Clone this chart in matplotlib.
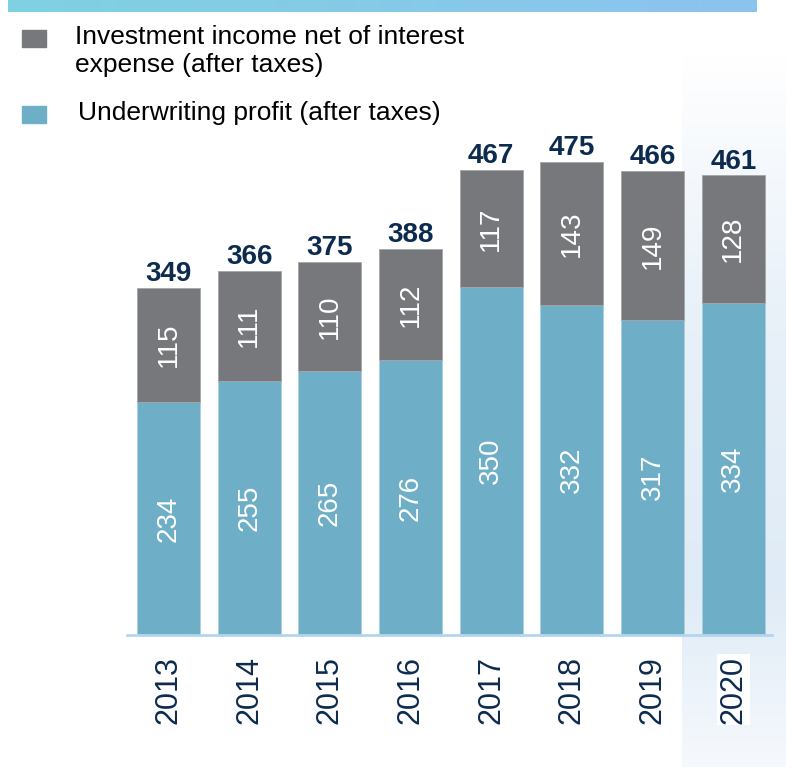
import matplotlib.pyplot as plt
import numpy as np
from matplotlib.colors import LinearSegmentedColormap

plt.rcParams['font.family'] = ['Liberation Sans', 'DejaVu Sans']

years = ['2013', '2014', '2015', '2016', '2017', '2018', '2019', '2020']
underwriting = [234, 255, 265, 276, 350, 332, 317, 334]
investment = [115, 111, 110, 112, 117, 143, 149, 128]
totals = [349, 366, 375, 388, 467, 475, 466, 461]

legend_labels = ['Investment income net of interest\nexpense (after taxes)',
                 'Underwriting profit (after taxes)']

grey = '#77787b'
blue = '#6eaec6'
navy = '#0d2b4e'

W, H = 786, 767
fig = plt.figure(figsize=(W / 100, H / 100), dpi=100)


def px_axes(x0, y0, x1, y1, **kw):
    # axes placed by pixel box (top-left origin)
    return fig.add_axes([x0 / W, 1 - y1 / H, (x1 - x0) / W, (y1 - y0) / H], **kw)


# shaded highlight behind the latest year
bg = px_axes(682, 55, 786, 767)
shade = LinearSegmentedColormap.from_list(
    'shade', [(0, '#ffffff'), (0.35, '#e9f1f9'), (0.75, '#dfebf6'), (1, '#f6f9fd')])
bg.imshow(np.linspace(0, 1, 256).reshape(-1, 1), aspect='auto', cmap=shade,
          extent=[0, 1, 0, 1], origin='upper')
bg.axis('off')

# gradient strip across the top
strip = px_axes(8, 0, 757, 12)
band = LinearSegmentedColormap.from_list('band', ['#7fd1e0', '#8cc3f0'])
strip.imshow(np.linspace(0, 1, 256).reshape(1, -1), aspect='auto', cmap=band,
             extent=[0, 1, 0, 1])
strip.axis('off')

# bar chart
ax = px_axes(127, 140, 772, 635)
ax.patch.set_alpha(0)
x = np.arange(len(years))
width = 0.78
ax.bar(x, underwriting, width, color=blue, edgecolor='#a9cfe0', linewidth=0.6)
ax.bar(x, investment, width, bottom=underwriting, color=grey,
       edgecolor='#a5a6a8', linewidth=0.6)
ax.set_xlim(-0.514, 7.48)
ax.set_ylim(0, 497.5)

for i in range(len(years)):
    ax.text(x[i], underwriting[i] / 2, str(underwriting[i]), rotation=90,
            ha='center', va='center', color='white', fontsize=20)
    ax.text(x[i], underwriting[i] + investment[i] / 2, str(investment[i]),
            rotation=90, ha='center', va='center', color='white', fontsize=20)
    ax.text(x[i], totals[i] + 1, str(totals[i]), ha='center', va='bottom',
            color=navy, fontsize=20, fontweight='bold')

for s in ['top', 'right', 'left']:
    ax.spines[s].set_visible(False)
ax.spines['bottom'].set_color('#b3d6f0')
ax.spines['bottom'].set_linewidth(2)
ax.set_yticks([])
ax.set_xticks(x)
ax.set_xticklabels([])
ax.tick_params(axis='x', length=0)

for i, yr in enumerate(years):
    box = dict(facecolor='white', edgecolor='none', pad=1) if i == len(years) - 1 else None
    ax.text(x[i], -21, yr, rotation=90, ha='center', va='top', color=navy,
            fontsize=22, bbox=box)

# legend drawn by hand
fig.patches.append(plt.Rectangle((22 / W, 1 - 47 / H), 24 / W, 17 / H,
                                 transform=fig.transFigure, color=grey))
fig.patches.append(plt.Rectangle((22 / W, 1 - 123 / H), 24 / W, 17 / H,
                                 transform=fig.transFigure, color=blue))
fig.text(75 / W, 1 - 25 / H, legend_labels[0], ha='left', va='top',
         fontsize=19, linespacing=1.2, color='black')
fig.text(78 / W, 1 - 113 / H, legend_labels[1], ha='left', va='center',
         fontsize=19, color='black')

plt.savefig('out.png', dpi=100)
